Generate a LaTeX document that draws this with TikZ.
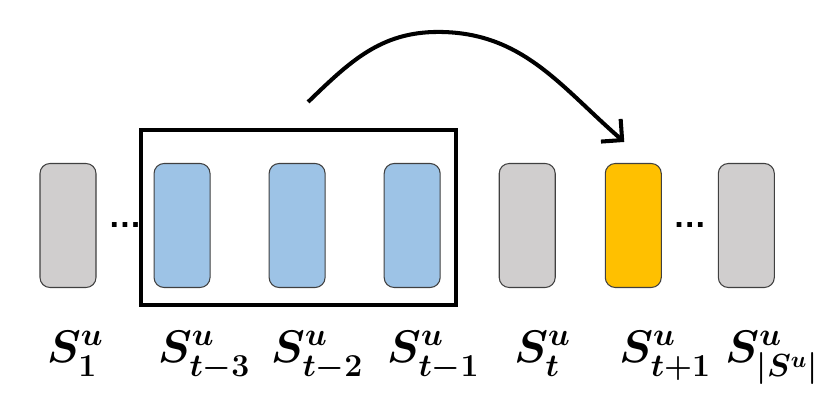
\RequirePackage{fix-cm}
\documentclass[tikz,border=0pt]{standalone}
\usepackage{amsmath,amssymb}
\usepackage{fontspec}
\newfontfamily\dotsfont{Liberation Sans}
\usepackage{tikz}
\usetikzlibrary{arrows.meta,positioning,calc,fit}
\definecolor{itemgray}{HTML}{D0CECE}
\definecolor{itemblue}{HTML}{9DC3E6}
\definecolor{itemorange}{HTML}{FFC000}

\begin{document}
\begin{tikzpicture}[
  node distance=6mm and 11.6mm,
  item/.style={draw=black!75, line width=0.6pt, rounded corners=2mm,
               minimum width=11.2mm, minimum height=24.8mm, inner sep=0pt},
  oldbox/.style={item, fill=itemgray},
  winbox/.style={item, fill=itemblue},
  nextbox/.style={item, fill=itemorange},
  lab/.style={font=\fontsize{26}{30}\selectfont, inner sep=0pt, anchor=base west},
  gap/.style={font=\dotsfont\bfseries\fontsize{19}{20}\selectfont, inner sep=0pt},
  window/.style={draw, line width=2.3pt, inner sep=0pt},
  arrow/.style={-{Straight Barb[length=3mm,width=6mm]}, line width=2.3pt}
]
\useasboundingbox (0,0) rectangle (16.6,8.26);
\node[oldbox] (s1) at (1.36,3.75) {};
\node[winbox, right=1.14cm of s1] (s2) {};
\node[winbox, right=of s2] (s3) {};
\node[winbox, right=of s3] (s4) {};
\node[oldbox, right=of s4] (s5) {};
\node[nextbox, right=0.98cm of s5] (s6) {};
\node[oldbox, right=1.12cm of s6] (s7) {};
\node[gap] (d1) at ($(s1.east)!0.5!(s2.west)$) {…};
\node[gap] (d2) at ($(s6.east)!0.5!(s7.west)$) {…};
\node[window, fit={($(s2.south west)+(-0.26,-0.34)$) ($(s4.north east)+(0.30,0.66)$)}] (win) {};
\coordinate (from) at ($(win.north)+(0.2,0.52)$);
\coordinate (peak) at ($(win.north)+(2.8,1.92)$);
\coordinate (tip) at ($(s6.north)+(-0.18,0.42)$);
\draw[arrow] (from) to[out=44,in=180] (peak) to[out=0,in=139] (tip);
\node[lab] (l1) at ($(s1.south west)+(0.14,-1.48)$) {$\boldsymbol{S^u_1}$};
\node[lab] (l2) at ($(s2.south west)+(0.08,-1.48)$) {$\boldsymbol{S^u_{t-3}}$};
\node[lab] (l3) at ($(s3.south west)+(0.04,-1.48)$) {$\boldsymbol{S^u_{t-2}}$};
\node[lab] (l4) at ($(s4.south west)+(0.06,-1.48)$) {$\boldsymbol{S^u_{t-1}}$};
\node[lab] (l5) at ($(s5.south west)+(0.30,-1.48)$) {$\boldsymbol{S^u_t}$};
\node[lab] (l6) at ($(s6.south west)+(0.28,-1.48)$) {$\boldsymbol{S^u_{t+1}}$};
\node[lab] (l7) at ($(s7.south west)+(0.14,-1.48)$) {$\boldsymbol{S^u_{|S^u|}}$};
\end{tikzpicture}
\end{document}
